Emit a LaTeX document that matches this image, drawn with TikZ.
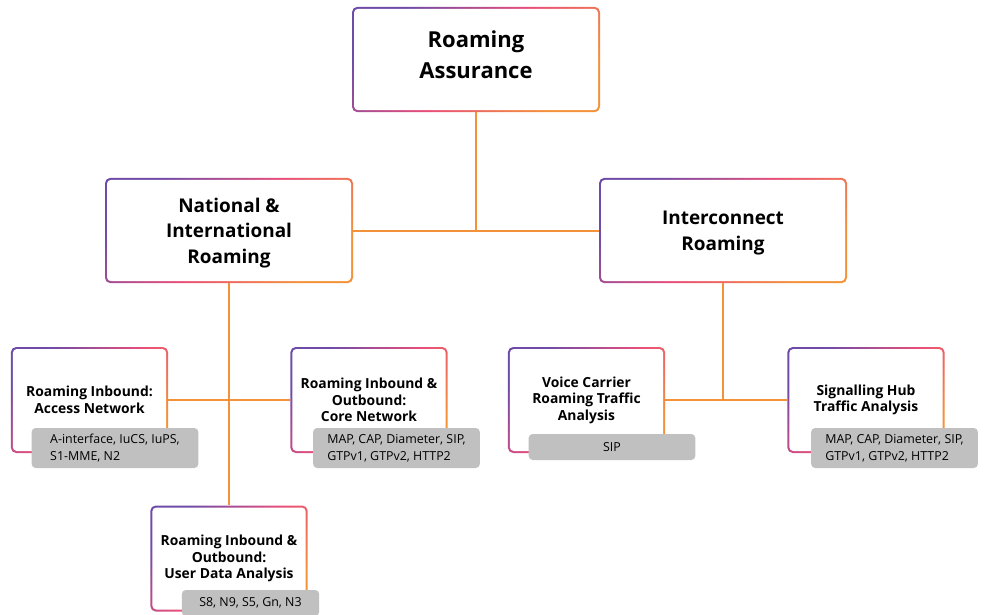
\documentclass[tikz,border=0pt]{standalone}
\usepackage{fontspec}
\setmainfont{Open Sans}
\definecolor{rpurple}{RGB}{110,75,168}
\definecolor{rpink}{RGB}{232,78,122}
\definecolor{rorange}{RGB}{244,146,58}
\definecolor{tagfill}{RGB}{192,192,192}
\begin{document}
\begin{tikzpicture}[x=0.75pt, y=-0.75pt]
  \tikzset{
    gbox/.style={rounded corners=4pt, inner sep=2pt, align=center,
      left color=rpurple, right color=rorange, middle color=rpink, shading angle=45,
      path picture={\fill[white, rounded corners=3pt]
        ([shift={(1.5pt,1.5pt)}]path picture bounding box.south west) rectangle
        ([shift={(-1.5pt,-1.5pt)}]path picture bounding box.north east);}},
    topbox/.style={gbox, minimum width=186pt, minimum height=79pt, text depth=7.5pt, font=\bfseries\fontsize{16.5}{23}\selectfont},
    midbox/.style={gbox, minimum width=186pt, minimum height=79pt, text depth=-4pt, font=\bfseries\fontsize{14.2}{19.2}\selectfont},
    leafbox/.style={gbox, minimum width=118pt, minimum height=79.5pt, font=\bfseries\fontsize{10.4}{12.4}\selectfont},
    tag/.style={fill=tagfill, rounded corners=3pt, minimum width=125pt, minimum height=30pt, align=left, inner sep=3pt, font=\fontsize{9.3}{13}\selectfont},
    link/.style={draw=rorange, line width=1.5pt}
  }
  \useasboundingbox (0,0) rectangle (984,614);
  % main tree
  \node[topbox] (assur) at (476,59.5) {Roaming\\Assurance};
  \node[midbox] (natl) at (229,230.5) {National \&\\International\\Roaming};
  \node[midbox] (inter) at (723,230.5) {Interconnect\\Roaming};
  % leaves
  \node[leafbox] (access) at (89.5,400) {Roaming Inbound:\\Access Network};
  \node[leafbox] (core) at (369,400) {Roaming Inbound \&\\Outbound:\\Core Network};
  \node[leafbox] (udata) at (229,558.5) {Roaming Inbound \&\\Outbound:\\User Data Analysis};
  \node[leafbox] (voice) at (586.5,400) {Voice Carrier\\Roaming Traffic\\Analysis};
  \node[leafbox] (sighub) at (866,400) {Signalling Hub\\Traffic Analysis};
  % protocol tags
  \node[tag] (accesstag) at (115,448) {A-interface, IuCS, IuPS,\\S1-MME, N2};
  \node[tag] (coretag) at (396.5,448) {MAP, CAP, Diameter, SIP,\\GTPv1, GTPv2, HTTP2};
  \node[tag, minimum width=103pt, minimum height=19.5pt] (udatatag) at (250.5,603) {S8, N9, S5, Gn, N3};
  \node[tag, minimum height=19.5pt] (voicetag) at (612,447) {SIP};
  \node[tag] (sighubtag) at (894.5,448) {MAP, CAP, Diameter, SIP,\\GTPv1, GTPv2, HTTP2};
  % connectors
  \coordinate (hub) at (assur.south |- natl.east);
  \draw[link] (assur.south) -- (hub);
  \draw[link] (natl.east) -- (inter.west);
  \draw[link] (natl.south) -- (udata.north);
  \draw[link] (access.east) -- (core.west);
  \coordinate (hubr) at (inter.south |- voice.east);
  \draw[link] (inter.south) -- (hubr);
  \draw[link] (voice.east) -- (sighub.west);
\end{tikzpicture}
\end{document}
